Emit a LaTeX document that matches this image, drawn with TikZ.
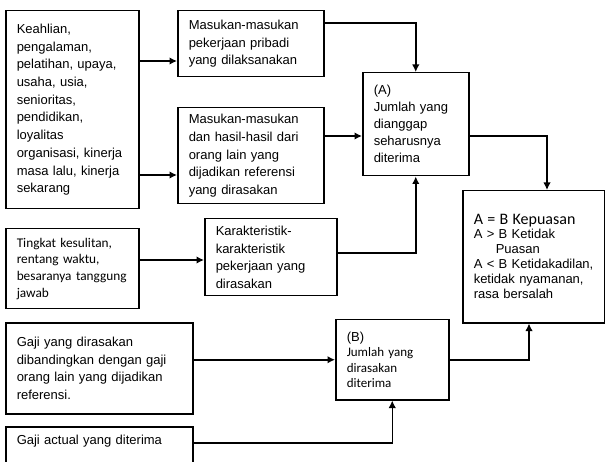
\documentclass[tikz,border=0pt]{standalone}
\usepackage{fontspec}
\setmainfont{Liberation Sans}
\newfontfamily\calibri{Carlito}
\usetikzlibrary{arrows.meta}
\tikzset{>={Latex[length=7.5pt,width=7.5pt]}}
\tikzset{
  box/.style = {draw, line width=1.5pt, anchor=north west, align=left,
    inner xsep=11pt, inner ysep=2pt, font=\fontsize{13}{17.7}\selectfont},
  link/.style = {line width=1.5pt}
}

\begin{document}
\begin{tikzpicture}[x=1pt,y=-1pt]
  \useasboundingbox (0,0) rectangle (605,462);
  \clip (0,0) rectangle (605,462);
  % inputs
  \node[box,minimum width=133pt,minimum height=198pt,text width=111pt] (K) at (5,10)
    {Keahlian,\\ pengalaman,\\ pelatihan, upaya,\\ usaha, usia,\\ senioritas,\\ pendidikan,\\ loyalitas\\ organisasi, kinerja\\ masa lalu, kinerja\\ sekarang};
  \node[box,minimum width=146pt,minimum height=66pt,text width=124pt] (M1) at (177,10)
    {Masukan-masukan\\ pekerjaan pribadi\\ yang dilaksanakan};
  \node[box,minimum width=146pt,minimum height=96pt,text width=124pt] (M2) at (177,107)
    {Masukan-masukan\\ dan hasil-hasil dari\\ orang lain yang\\ dijadikan referensi\\ yang dirasakan};
  \node[box,minimum width=106pt,minimum height=103pt,text width=84pt,
    font=\fontsize{13}{17}\selectfont] (A) at (362,72)
    {(A)\\ Jumlah yang\\ dianggap\\ seharusnya\\ diterima};
  \node[box,minimum width=142pt,minimum height=132pt,text width=120pt,
    font=\fontsize{13}{15}\selectfont] (R) at (462,190)
    {{\calibri\fontsize{16}{15}\selectfont A = B Kepuasan}\\[-1pt] A > B Ketidak\\ \hspace*{22pt}Puasan\\ A < B Ketidakadilan,\\ ketidak nyamanan,\\ rasa bersalah};
  \node[box,minimum width=133pt,minimum height=80pt,text width=111pt,
    font=\calibri\fontsize{13.3}{16.7}\selectfont] (T) at (5,228)
    {Tingkat kesulitan,\\ rentang waktu,\\ besaranya tanggung\\ jawab};
  \node[box,minimum width=132pt,minimum height=77pt,text width=110pt] (C) at (204,218)
    {Karakteristik-\\ karakteristik\\ pekerjaan yang\\ dirasakan};
  \node[box,minimum width=187pt,minimum height=91pt,text width=165pt] (G1) at (5,322)
    {Gaji yang dirasakan\\ dibandingkan dengan gaji\\ orang lain yang dijadikan\\ referensi.};
  \node[box,minimum width=113pt,minimum height=80pt,text width=91pt,
    font=\calibri\fontsize{13}{15.5}\selectfont] (B) at (335,319)
    {{\normalfont\fontsize{13}{15.5}\selectfont (B)}\\ Jumlah yang\\ dirasakan\\ diterima};
  \node[box,minimum width=187pt,minimum height=44pt,text width=165pt] (G2) at (5,426)
    {Gaji actual yang diterima\\ \mbox{}};
  % connectors
  \draw[->,link] (K.east |- 0,61) -- (M1.west |- 0,61);
  \draw[->,link] (K.east |- 0,175) -- (M2.west |- 0,175);
  \draw[->,link] (M1.east |- 0,23) -| (A.north);
  \draw[->,link] (M2.east |- 0,136) -- (A.west |- 0,136);
  \draw[->,link] (A.east |- 0,136) -| (R.north -| 547,0);
  \draw[->,link] (T.east |- 0,260) -- (C.west |- 0,260);
  \draw[->,link] (C.east |- 0,253) -| (A.south);
  \draw[->,link] (G1.east |- B.west) -- (B.west);
  \draw[->,link] (G2.east |- 0,443) -| (B.south);
  \draw[->,link] (B.east) -| (R.south -| 529,0);
\end{tikzpicture}
\end{document}
